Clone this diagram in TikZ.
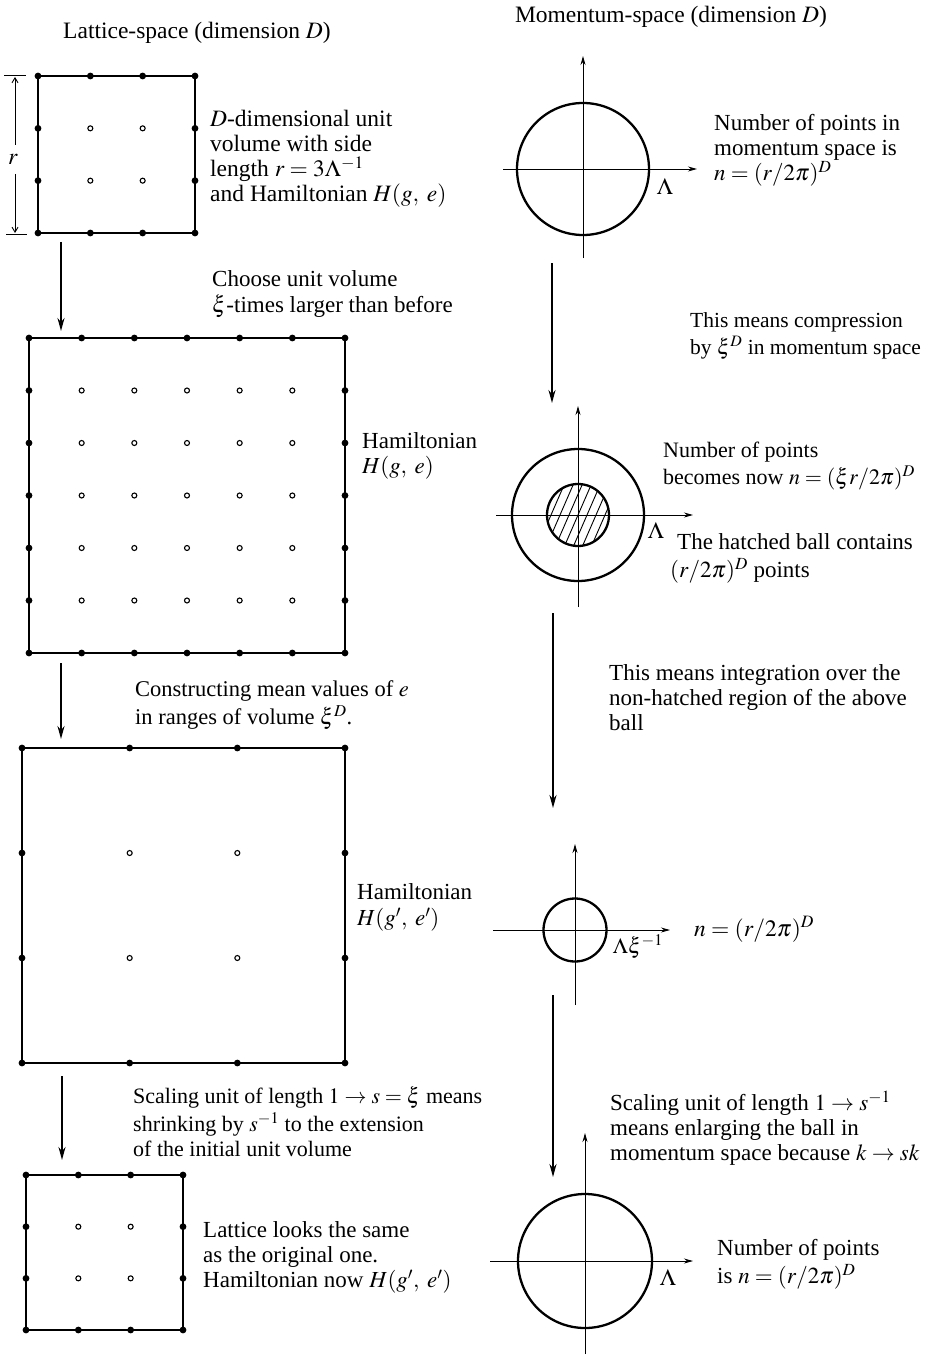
\documentclass[tikz,border=0pt]{standalone}
\usepackage{mathptmx}
\usepackage{fontspec}
\setmainfont{Liberation Serif}
\usetikzlibrary{arrows.meta,calc}

\newcommand{\latdots}[5]{%
  \pgfmathsetmacro{\lbdx}{(#3-#1)/#5}%
  \pgfmathsetmacro{\lbdy}{(#4-#2)/#5}%
  \foreach \i in {0,...,#5}{%
    \foreach \j in {0,...,#5}{%
      \pgfmathsetmacro{\lbpx}{#1+\i*\lbdx}%
      \pgfmathsetmacro{\lbpy}{#2+\j*\lbdy}%
      \pgfmathtruncatemacro{\lbedge}{(\i==0)||(\i==#5)||(\j==0)||(\j==#5)}%
      \ifnum\lbedge=1
        \fill (\lbpx,\lbpy) circle[radius=3.4pt];
      \else
        \draw[line width=1.1pt] (\lbpx,\lbpy) circle[radius=2.5pt];
      \fi
    }%
  }%
}

\newcommand{\fsz}[1]{\fontsize{#1}{25}\selectfont\thickmuskip=4mu plus 2mu\medmuskip=3mu plus 1mu}

\tikzset{
  txt/.style={anchor=north west, inner sep=0pt, align=left,
    font=\fsz{23}},
  ttl/.style={inner sep=0pt, font=\fsz{23.5}},
  latbox/.style={draw, line width=2.3pt, inner sep=0pt},
  ball/.style={draw, circle, line width=2.3pt, inner sep=0pt},
  axis/.style={line width=0.9pt, -{Stealth[length=9pt,width=5pt]}},
  flow/.style={line width=1.8pt, -{Stealth[length=13pt,width=7pt]}},
  dim/.style={line width=0.9pt},
  dimarr/.style={line width=0.9pt, -{Straight Barb[length=5pt,width=6pt]}},
  hatch/.style={line width=0.9pt},
}

\begin{document}
\begin{tikzpicture}[x=1pt,y=-1pt]
\useasboundingbox (0,0) rectangle (928,1356);

% ---------- titles
\node[ttl] (tlat) at (197,33) {Lattice-space (dimension $D$)};
\node[ttl] (tmom) at (671,17) {Momentum-space (dimension $D$)};

% ---------- lattice boxes
\node[latbox, minimum width=157pt, minimum height=157pt] (b1) at (116.5,154.5) {};
\latdots{38}{76}{195}{233}{3}
\node[latbox, minimum width=316pt, minimum height=315pt] (b2) at (187,495.5) {};
\latdots{29}{338}{345}{653}{6}
\node[latbox, minimum width=323pt, minimum height=315pt] (b3) at (183.5,905.5) {};
\latdots{22}{748}{345}{1063}{3}
\node[latbox, minimum width=157pt, minimum height=155pt] (b4) at (104.5,1252.5) {};
\latdots{26}{1175}{183}{1330}{3}

% ---------- dimension r
\coordinate (rt1) at (4,75);  \coordinate (rt2) at (26,75);
\coordinate (rb1) at (6,234); \coordinate (rb2) at (27,234);
\draw[dim] (rt1) -- (rt2);
\draw[dim] (rb1) -- (rb2);
\node[ttl] (rlab) at (13,159) {$r$};
\coordinate (ru1) at (15,145); \coordinate (ru2) at (15,77);
\coordinate (rd1) at (15,174); \coordinate (rd2) at (15,233);
\draw[dimarr] (ru1) -- (ru2);
\draw[dimarr] (rd1) -- (rd2);

% ---------- left flow arrows
\coordinate (la1) at (61,242);  \coordinate (la2) at (61,331);
\coordinate (lb1) at (61,663);  \coordinate (lb2) at (61,739);
\coordinate (lc1) at (62,1076); \coordinate (lc2) at (62,1160);
\draw[flow] (la1) -- (la2);
\draw[flow] (lb1) -- (lb2);
\draw[flow] (lc1) -- (lc2);

% ---------- left texts
\node[txt, font=\fsz{23.5}] (t1) at (210,109) {\strut$D$-dimensional unit\\volume with side\\length $r=3\Lambda^{-1}$\\and Hamiltonian $H(g,\;e)$};
\node[txt] (t2) at (212,269) {\strut Choose unit volume\\$\xi$-times larger than before};
\node[txt] (t3) at (362,431) {\strut Hamiltonian\\$H(g,\;e)$};
\node[txt, font=\fsz{22.5}] (t4) at (135,679) {\strut Constructing mean values of $e$\\in ranges of volume $\xi^D$.};
\node[txt] (t5) at (357,882) {\strut Hamiltonian\\$H(g',\;e')$};
\node[txt, font=\fsz{22}] (t6) at (133,1086) {\strut Scaling unit of length $1\to s=\xi$ means\\shrinking by $s^{-1}$ to the extension\\of the initial unit volume};
\node[txt] (t7) at (203,1220) {\strut Lattice looks the same\\as the original one.\\Hamiltonian now $H(g',\;e')$};

% ---------- momentum ball 1
\node[ball, minimum size=132pt] (c1) at (583,169) {};
\coordinate (c1l) at (503,169); \coordinate (c1r) at (697,169);
\coordinate (c1b) at (583,258); \coordinate (c1t) at (583,56);
\draw[axis] (c1l) -- (c1r);
\draw[axis] (c1b) -- (c1t);
\node[ttl] (l1) at (665,186) {$\Lambda$};
\node[txt] (m1) at (714,113) {\strut Number of points in\\momentum space is\\$n=(r/2\pi)^D$};

\coordinate (ra1) at (552,263); \coordinate (ra2) at (552,403);
\draw[flow] (ra1) -- (ra2);
\node[txt, font=\fsz{21.5}] (m2) at (690,310) {\strut This means compression\\by $\xi^D$ in momentum space};

% ---------- momentum ball 2 (hatched)
\node[ball, minimum size=132pt] (c2) at (578,515) {};
\begin{scope}
  \clip (c2.center) circle[radius=31pt];
  \foreach \k in {-6,...,6}{
    \draw[hatch] ($(c2.center)+(\k*9-20,46)$) -- ($(c2.center)+(\k*9+20,-46)$);
  }
\end{scope}
\node[ball, minimum size=62pt] (c2i) at (578,515) {};
\coordinate (c2l) at (496,515); \coordinate (c2r) at (693,515);
\coordinate (c2b) at (578,607); \coordinate (c2t) at (578,406);
\draw[axis] (c2l) -- (c2r);
\draw[axis] (c2b) -- (c2t);
\node[ttl] (l2) at (656,530) {$\Lambda$};
\node[txt, font=\fsz{22}] (m3) at (663,440) {\strut Number of points\\becomes now $n=(\xi r/2\pi)^D$};
\node[txt] (m4) at (677,532) {\strut The hatched ball contains\\\hspace*{-7pt}$(r/2\pi)^D$ points};

\coordinate (rb1a) at (553,613); \coordinate (rb2a) at (553,808);
\draw[flow] (rb1a) -- (rb2a);
\node[txt] (m5) at (609,663) {\strut This means integration over the\\non-hatched region of the above\\ball};

% ---------- momentum ball 3
\node[ball, minimum size=63pt] (c3) at (575,930) {};
\coordinate (c3l) at (493,930); \coordinate (c3r) at (670,930);
\coordinate (c3b) at (575,1005); \coordinate (c3t) at (575,844);
\draw[axis] (c3l) -- (c3r);
\draw[axis] (c3b) -- (c3t);
\node[ttl, font=\fsz{22}] (l3) at (638,947) {$\Lambda\xi^{-1}$};
\node[ttl, anchor=base west] (m6) at (694,936) {$n=(r/2\pi)^D$};

\coordinate (rc1) at (553,995); \coordinate (rc2) at (553,1177);
\draw[flow] (rc1) -- (rc2);
\node[txt] (m7) at (610,1091) {\strut Scaling unit of length $1\to s^{-1}$\\means enlarging the ball in\\momentum space because $k\to sk$};

% ---------- momentum ball 4
\node[ball, minimum size=134pt] (c4) at (585,1261) {};
\coordinate (c4l) at (490,1261); \coordinate (c4r) at (693,1261);
\coordinate (c4b) at (585,1354); \coordinate (c4t) at (585,1133);
\draw[axis] (c4l) -- (c4r);
\draw[axis] (c4b) -- (c4t);
\node[ttl] (l4) at (668,1277) {$\Lambda$};
\node[txt] (m8) at (717,1238) {\strut Number of points\\is $n=(r/2\pi)^D$};

\end{tikzpicture}
\end{document}
